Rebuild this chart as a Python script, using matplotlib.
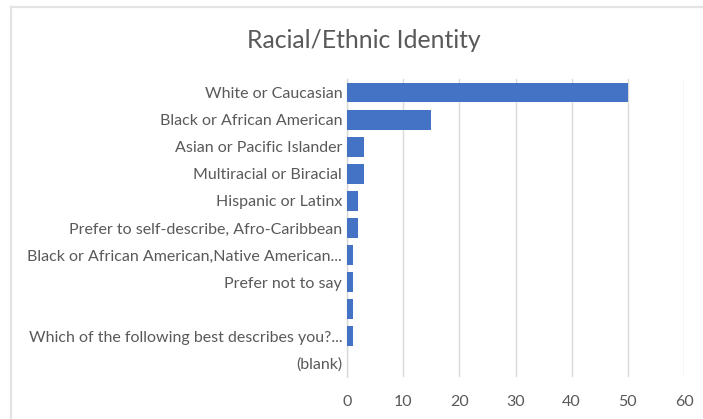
import matplotlib
matplotlib.use("Agg")
import matplotlib.pyplot as plt
from matplotlib.lines import Line2D

categories = [
    "White or Caucasian",
    "Black or African American",
    "Asian or Pacific Islander",
    "Multiracial or Biracial",
    "Hispanic or Latinx",
    "Prefer to self-describe, Afro-Caribbean",
    "Black or African American,Native American...",
    "Prefer not to say",
    "",
    "Which of the following best describes you?...",
    "(blank)",
]
counts = [50, 15, 3, 3, 2, 2, 1, 1, 1, 1, 0]
x_ticks = [0, 10, 20, 30, 40, 50, 60]

TEXT = "#595959"
GRID = "#d9d9d9"
BAR = "#4472C4"
FONT = "Lato"

fig = plt.figure(figsize=(7.03, 4.19), dpi=100)
fig.patch.set_facecolor("white")

# light chart-area frame (top and left edges)
fig.add_artist(Line2D([11.5 / 703, 11.5 / 703], [0, 1 - 7 / 419],
                      transform=fig.transFigure, color="#e3e3e3", lw=1.6))
fig.add_artist(Line2D([11.5 / 703, 1], [1 - 7 / 419, 1 - 7 / 419],
                      transform=fig.transFigure, color="#e3e3e3", lw=1.6))

ax = fig.add_axes([347 / 703, 1 - 377 / 419, (684 - 347) / 703, (377 - 79) / 419])
pos = list(range(len(categories)))
ax.barh(pos, counts, height=0.73, color=BAR, zorder=3)

ax.set_ylim(len(categories) - 0.5, -0.5)
ax.set_xlim(0, 60)
ax.set_xticks(x_ticks)
ax.set_xticklabels([str(t) for t in x_ticks])
ax.set_yticks(pos)
ax.set_yticklabels(categories)

ax.xaxis.grid(True, color=GRID, lw=1.0, zorder=0)
ax.set_axisbelow(True)
for s in ["top", "right", "bottom"]:
    ax.spines[s].set_visible(False)
ax.spines["left"].set_color(GRID)
ax.spines["left"].set_linewidth(1.0)

ax.tick_params(axis="both", length=0, colors=TEXT, labelsize=11.5)
ax.tick_params(axis="y", pad=3.5)
ax.tick_params(axis="x", pad=13)
for lab in ax.get_xticklabels() + ax.get_yticklabels():
    lab.set_fontfamily(FONT)
    lab.set_color(TEXT)

fig.text(364 / 703, 1 - 40 / 419, "Racial/Ethnic Identity", ha="center", va="center",
         fontsize=17.8, color=TEXT, fontfamily=FONT)

fig.savefig("out.png", dpi=100)
